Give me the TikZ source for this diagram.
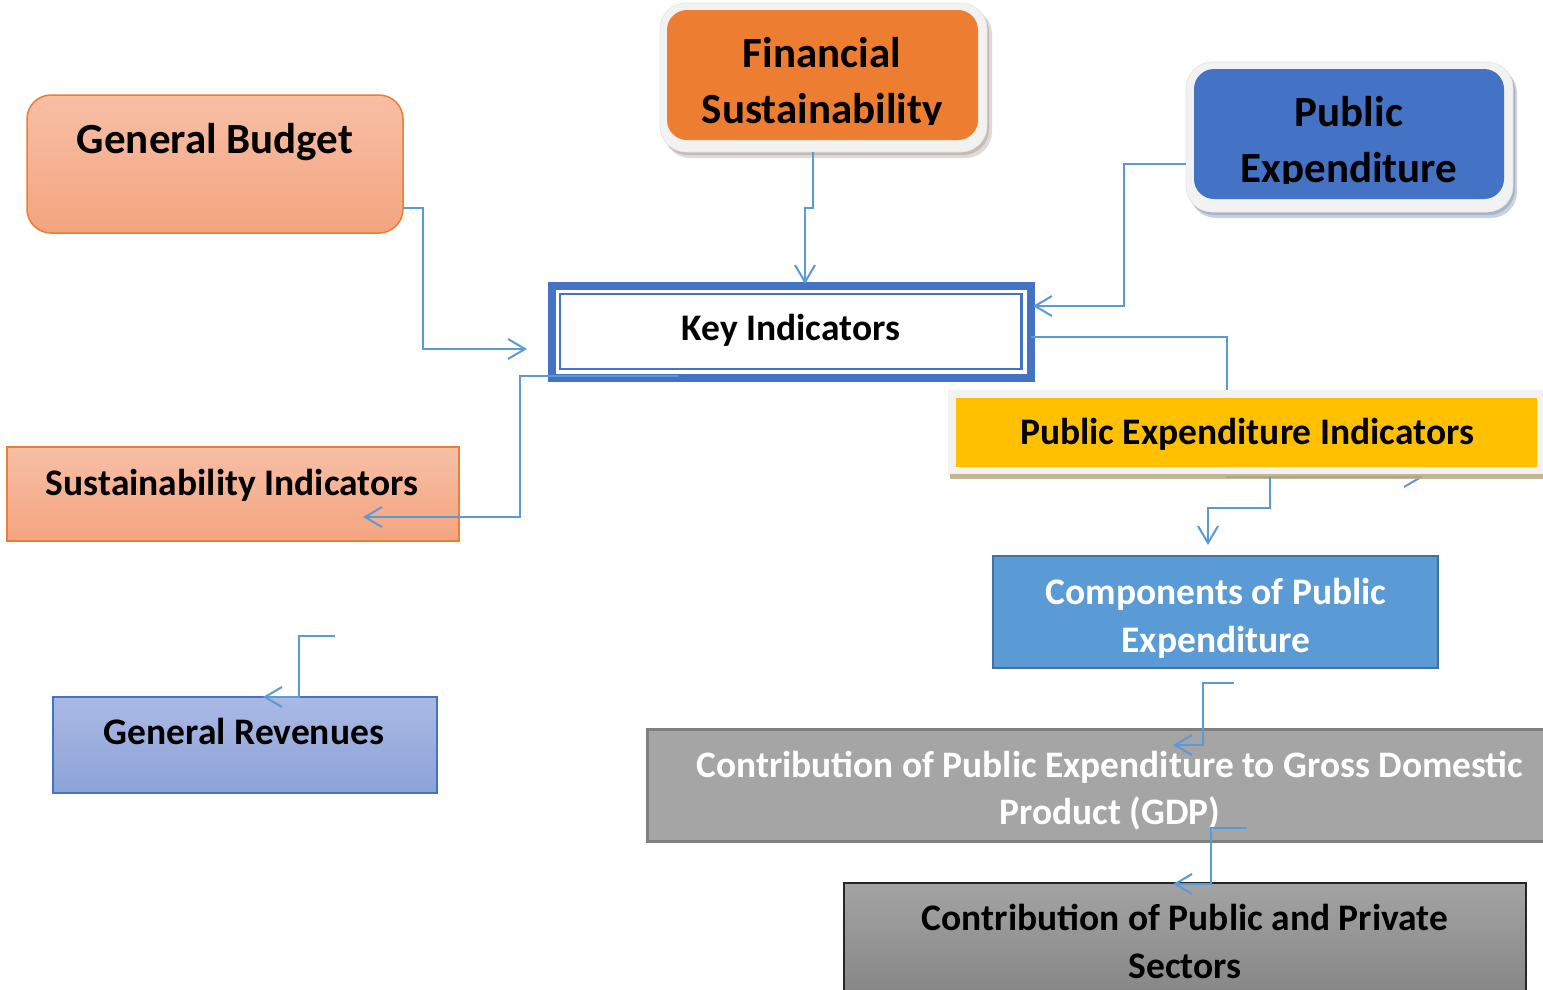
\documentclass[tikz,border=0pt]{standalone}
\usepackage{fontspec}
\setmainfont{Carlito}
\usetikzlibrary{arrows.meta,calc}
\definecolor{linkblue}{HTML}{5B9BD5}
\definecolor{accorange}{HTML}{ED7D31}
\definecolor{accblue}{HTML}{4472C4}
\definecolor{peachtop}{HTML}{F7BFA6}
\definecolor{peachbot}{HTML}{F4A47F}
\definecolor{lavtop}{HTML}{AAB9E3}
\definecolor{lavbot}{HTML}{8CA3D9}
\definecolor{gold}{HTML}{FFC000}
\definecolor{skyblue}{HTML}{5B9BD5}
\definecolor{skyedge}{HTML}{41719C}
\definecolor{midgray}{HTML}{A5A5A5}
\definecolor{grayedge}{HTML}{7F7F7F}
\definecolor{steeltop}{HTML}{A3A3A3}
\definecolor{steelbot}{HTML}{858585}
\definecolor{framegray}{HTML}{F2F2F2}
\definecolor{shadebrown}{HTML}{A4968A}
\definecolor{shadeblue}{HTML}{8C9CB8}
\definecolor{shadetan}{HTML}{BCAB7F}
\newcommand{\bigfont}{\bfseries\fontsize{43}{56}\selectfont}
\newcommand{\midfont}{\bfseries\fontsize{37.5}{48}\selectfont}
\begin{document}
\begin{tikzpicture}[x=1pt,y=-1pt,
  every node/.style={inner sep=0pt, outer sep=0pt},
  box/.style={rectangle, minimum width=#1},
  label/.style={align=center, anchor=base},
  link/.style={draw=linkblue, line width=2pt},
  tip/.style={-{Straight Barb[length=17pt,width=20pt]}}]
\clip (0,0) rectangle (1543,989);
\fill[white] (0,0) rectangle (1543,989);

% ---- General Budget
\node[box=376pt, minimum height=138pt, rounded corners=24pt, draw=accorange,
      line width=1.5pt, top color=peachtop, bottom color=peachbot] (gb) at (215,164) {};
\node[label, font=\bigfont] (gbT) at (215,153) {General Budget};

% ---- Financial Sustainability (framed, with shadow)
\fill[shadebrown, opacity=0.35, rounded corners=26pt] (664,8) rectangle (992,158);
\fill[shadebrown, opacity=0.45, rounded corners=26pt] (662,6) rectangle (989,155);
\node[box=327pt, minimum height=149pt, rounded corners=26pt, fill=framegray,
      draw=black!10, line width=0.6pt] (fsf) at (823.5,77.5) {};
\node[box=311pt, minimum height=130pt, rounded corners=20pt, fill=accorange] (fs) at (822.5,75) {};
\begin{scope}
  % the text area ends just below the last baseline
  \clip (fs.north west) rectangle ([yshift=16pt]fs.south east);
  \node[label, font=\bigfont] (fsT) at (822,123) {Financial\\Sustainability};
\end{scope}

% ---- Public Expenditure (framed, with shadow)
\fill[shadeblue, opacity=0.45, rounded corners=26pt] (1190,67) rectangle (1517,218);
\fill[shadeblue, opacity=0.55, rounded corners=26pt] (1188,65) rectangle (1515,215);
\node[box=327pt, minimum height=150pt, rounded corners=26pt, fill=framegray,
      draw=black!10, line width=0.6pt] (pef) at (1349.5,137) {};
\node[box=310pt, minimum height=130pt, rounded corners=20pt, fill=accblue] (pe) at (1349,134) {};
\begin{scope}
  \clip (pe.north west) rectangle ([yshift=16pt]pe.south east);
  \node[label, font=\bigfont] (peT) at (1349,182) {Public\\Expenditure};
\end{scope}

% ---- Key Indicators (double border)
\node[box=479pt, minimum height=92pt, draw=accblue, line width=8pt, fill=white] (ki) at (791.5,332) {};
\node[box=461.5pt, minimum height=75pt, draw=accblue, line width=2.5pt] (kiIn) at (790.75,331.5) {};
\node[label, font=\midfont] (kiT) at (791,340) {Key Indicators};

% ---- Sustainability Indicators
\node[box=452pt, minimum height=94pt, draw=accorange, line width=1.2pt,
      top color=peachtop, bottom color=peachbot] (si) at (233,494) {};
\node[label, font=\midfont] (siT) at (232,495) {Sustainability Indicators};

% ---- General Revenues
\node[box=384pt, minimum height=96pt, draw=accblue, line width=1.2pt,
      top color=lavtop, bottom color=lavbot] (gr) at (245,745) {};
\node[label, font=\midfont] (grT) at (244,744) {General Revenues};

% ---- Components of Public Expenditure
\node[box=445pt, minimum height=112pt, draw=skyedge, line width=2pt, fill=skyblue] (comp) at (1215.5,612) {};
\node[label, font=\midfont, text=white] (compT) at (1216,652) {Components of Public\\Expenditure};

% ---- Contribution to GDP
\node[box=901pt, minimum height=112pt, draw=grayedge, line width=3pt, fill=midgray] (gdp) at (1097.5,785) {};
\node[label, font=\bfseries\fontsize{37.4}{47}\selectfont, text=white] (gdpT) at (1110,824)
  {Contribution of Public Expenditure to Gross Domestic\\Product (GDP)};

% ---- Contribution of sectors
\node[box=682pt, minimum height=117pt, draw=black!85, line width=1.5pt,
      top color=steeltop, bottom color=steelbot] (pp) at (1185,941.5) {};
\node[label, font=\midfont] (ppT) at (1185,978) {Contribution of Public and Private\\Sectors};

% ---- Key Indicators to the expenditure indicators (runs beneath that box)
\draw[link,tip] ($(ki.east)+(0,5)$) -| (1227,477) -- (1423,477);

% ---- Public Expenditure Indicators (framed, with shadow bar)
\node[box=595pt, minimum height=86pt, fill=framegray] (peif) at (1245.5,433) {};
\node[box=581pt, minimum height=69pt, fill=gold] (pei) at (1246.5,432.5) {};
\fill[shadetan, opacity=0.85] (950,474) rectangle (1543,479);
\node[label, font=\midfont] (peiT) at (1247,444) {Public Expenditure Indicators};

% ---- Connectors
\draw[link,tip] ($(gb.east)+(0,44)$) -- ++(20,0) |- ($(ki.west)+(-25,17)$);
\draw[link,tip] ($(fsf.south)+(-10.5,0)$) -- ++(0,56) -| ($(ki.north)+(13.5,-2)$);
\draw[link,tip] ($(pef.west)+(0,27)$) -- ++(-62,0) |- ($(ki.east)+(2,-26)$);
\draw[link,tip] ($(ki.south)+(-113.5,-2)$) -- ++(-158,0) |- ($(si.center)+(130,23)$);
\draw[link,tip] ($(peif.south)+(24.5,1)$) -- ++(0,31) -| ($(comp.north)+(-7.5,-11)$);

\coordinate (grIn) at (335,636);
\draw[link,tip] (grIn) -- ++(-36,0) |- ($(gr.north)+(18,0)$);
\coordinate (gdpIn) at (1234,683);
\draw[link,tip] (gdpIn) -- ++(-31,0) |- ($(gdp.north)+(75.5,16)$);
\coordinate (ppIn) at (1247,828);
\draw[link,tip] (ppIn) -- ++(-36,0) |- ($(pp.north)+(-12,1)$);
\end{tikzpicture}
\end{document}
